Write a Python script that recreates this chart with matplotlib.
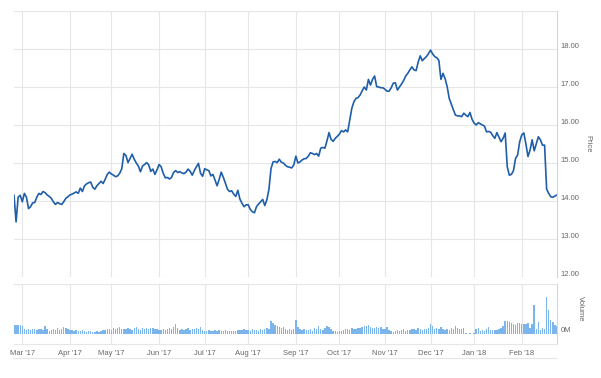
import numpy as np
import pandas as pd
import matplotlib
matplotlib.use("Agg")
import matplotlib.pyplot as plt
import matplotlib.transforms as mtransforms
from matplotlib.lines import Line2D

plt.rcParams['font.family'] = ['Liberation Sans', 'DejaVu Sans']

# one value per trading day, 2017-02-23 .. 2018-02-27
price = [
    14.15, 13.45, 14.10, 14.15, 13.98, 14.20, 14.10, 13.80, 13.85, 13.95,
    13.96, 14.10, 14.20, 14.17, 14.25, 14.22, 14.16, 14.12, 14.07, 13.98,
    13.91, 13.96, 13.93, 13.91, 13.98, 14.07, 14.11, 14.16, 14.18, 14.21,
    14.24, 14.20, 14.34, 14.25, 14.40, 14.45, 14.48, 14.50, 14.36, 14.31,
    14.40, 14.46, 14.52, 14.46, 14.57, 14.70, 14.76, 14.71, 14.68, 14.64,
    14.66, 14.73, 14.85, 15.25, 15.20, 15.01, 15.12, 15.23, 15.10, 15.00,
    14.92, 14.77, 14.92, 14.96, 15.01, 14.95, 14.78, 14.84, 14.70, 14.82,
    14.96, 14.90, 14.73, 14.61, 14.62, 14.58, 14.62, 14.75, 14.80, 14.75,
    14.77, 14.74, 14.72, 14.76, 14.84, 14.78, 14.68, 14.80, 14.90, 14.99,
    14.73, 14.65, 14.85, 14.82, 14.80, 14.66, 14.70, 14.55, 14.40, 14.57,
    14.76, 14.62, 14.47, 14.31, 14.25, 14.27, 14.18, 14.12, 14.28, 14.05,
    13.94, 13.85, 13.90, 13.90, 13.78, 13.72, 13.69, 13.85, 13.92, 13.98,
    14.04, 13.88, 14.03, 14.30, 14.85, 15.03, 15.04, 15.01, 15.10, 15.02,
    15.00, 14.94, 14.90, 14.89, 14.87, 14.95, 15.18, 15.00, 15.03, 15.08,
    15.11, 15.12, 15.18, 15.27, 15.25, 15.22, 15.25, 15.18, 15.39, 15.41,
    15.39, 15.58, 15.80, 15.62, 15.57, 15.65, 15.70, 15.76, 15.85, 15.82,
    15.87, 15.82, 16.13, 16.44, 16.61, 16.70, 16.72, 16.79, 16.90, 17.00,
    16.92, 17.20, 17.05, 17.20, 17.29, 17.01, 17.00, 16.98, 16.98, 16.94,
    16.89, 16.89, 16.98, 17.10, 17.11, 16.92, 17.00, 17.08, 17.17, 17.29,
    17.36, 17.45, 17.53, 17.45, 17.43, 17.65, 17.82, 17.69, 17.75, 17.80,
    17.88, 17.97, 17.87, 17.80, 17.77, 17.70, 17.20, 17.36, 17.22, 17.01,
    16.70, 16.55, 16.40, 16.26, 16.24, 16.24, 16.22, 16.31, 16.26, 16.22,
    16.33, 16.15, 16.05, 16.00, 16.06, 16.03, 16.00, 15.97, 15.82, 15.83,
    15.81, 15.72, 15.65, 15.80, 15.68, 15.56, 15.65, 15.79, 14.90, 14.68,
    14.70, 14.80, 15.12, 15.21, 15.56, 15.74, 15.79, 15.50, 15.17, 15.34,
    15.61, 15.32, 15.50, 15.69, 15.61, 15.47, 15.47, 14.31, 14.20, 14.11,
    14.10, 14.13, 14.16,
]

# volume in millions, same days
volume = [
    0.95, 0.90, 0.90, 0.90, 0.85, 0.55, 0.45, 0.50, 0.40, 0.50,
    0.55, 0.45, 0.50, 0.55, 0.45, 0.80, 0.50, 0.35, 0.45, 0.50,
    0.40, 0.60, 0.45, 0.55, 0.70, 0.65, 0.55, 0.45, 0.40, 0.35,
    0.40, 0.30, 0.35, 0.40, 0.30, 0.25, 0.35, 0.30, 0.20, 0.25,
    0.30, 0.20, 0.35, 0.45, 0.40, 0.50, 0.55, 0.45, 0.65, 0.50,
    0.65, 0.70, 0.55, 0.50, 0.55, 0.65, 0.50, 0.45, 0.60, 0.70,
    0.50, 0.45, 0.60, 0.55, 0.65, 0.50, 0.60, 0.65, 0.50, 0.55,
    0.45, 0.40, 0.50, 0.45, 0.55, 0.60, 0.55, 0.75, 1.05, 0.60,
    0.45, 0.55, 0.40, 0.50, 0.60, 0.45, 0.55, 0.50, 0.60, 0.55,
    0.70, 0.45, 0.35, 0.30, 0.40, 0.35, 0.30, 0.40, 0.35, 0.45,
    0.30, 0.35, 0.40, 0.30, 0.35, 0.30, 0.35, 0.30, 0.40, 0.45,
    0.40, 0.55, 0.40, 0.45, 0.35, 0.50, 0.40, 0.45, 0.35, 0.50,
    0.45, 0.55, 0.60, 0.50, 1.35, 1.10, 0.90, 0.80, 0.75, 0.60,
    0.70, 0.50, 0.45, 0.50, 0.45, 0.50, 1.40, 0.70, 0.50, 0.40,
    0.55, 0.45, 0.40, 0.50, 0.35, 0.60, 0.50, 0.80, 0.55, 0.45,
    0.60, 0.85, 0.70, 0.55, 0.35, 0.30, 0.25, 0.35, 0.30, 0.45,
    0.55, 0.50, 0.45, 0.60, 0.50, 0.55, 0.65, 0.60, 0.75, 0.80,
    0.85, 0.95, 0.75, 0.60, 0.65, 0.70, 0.60, 0.75, 0.50, 0.55,
    0.70, 0.45, 0.30, 0.25, 0.35, 0.45, 0.30, 0.40, 0.50, 0.35,
    0.45, 0.40, 0.55, 0.50, 0.45, 0.60, 0.55, 0.40, 0.55, 0.50,
    0.65, 1.00, 0.80, 0.55, 0.60, 0.50, 0.70, 0.55, 0.40, 0.55,
    0.45, 0.60, 0.50, 0.80, 0.60, 0.50, 0.50, 0.65, 0.10, 0.05,
    0.10, 0.05, 0.15, 0.50, 0.60, 0.30, 0.40, 0.35, 0.50, 0.75,
    0.45, 0.40, 0.45, 0.45, 0.55, 0.60, 0.80, 1.30, 1.35, 1.20,
    1.10, 1.05, 0.90, 1.10, 1.10, 1.00, 1.00, 1.05, 1.10, 0.60,
    1.00, 2.90, 0.50, 1.20, 0.45, 0.60, 0.55, 3.70, 2.45, 1.45,
    1.20, 0.95, 0.85,
]

dates = pd.bdate_range('2017-02-23', periods=len(price))
months = pd.Series(dates.to_period('M'))
tick_idx = np.where(~months.duplicated().values)[0][1:]
tick_lab = [dates[i].strftime("%b '%y") for i in tick_idx]

W, H = 601, 378
def rect(l, t, r, b):
    return [l / W, 1 - b / H, (r - l) / W, (b - t) / H]

grid_c = '#e6e6e6'
axis_c = '#ccd6eb'
text_c = '#666666'
fs = 5.5

fig = plt.figure(figsize=(W / 100, H / 100), dpi=100)
ax = fig.add_axes(rect(14, 11, 557, 277))
axv = fig.add_axes(rect(14, 284, 557, 344), sharex=ax)

x = np.arange(len(price))
ax.plot(x, price, color='#1f5ea8', lw=1.2, solid_joinstyle='round')
ax.set_xlim(0, len(price) - 1)
ax.set_ylim(12, 19)
ax.set_yticks(range(12, 20))
ax.set_yticklabels(['%.2f' % v if v < 19 else '' for v in range(12, 20)])

axv.bar(x, volume, width=0.68, color='#7cb5ec', linewidth=0, antialiased=False)
axv.set_ylim(-1.0, 5.0)
axv.set_yticks([0])
axv.set_yticklabels(['0M'])

offset = mtransforms.ScaledTranslation(0, 4 / 100, fig.dpi_scale_trans)
for a in (ax, axv):
    a.yaxis.tick_right()
    a.tick_params(axis='y', length=0, pad=2.5, labelsize=fs, labelcolor=text_c)
    a.tick_params(axis='x', length=0, pad=4.5, labelsize=fs, labelcolor=text_c)
    for lab in a.get_yticklabels():
        lab.set_transform(lab.get_transform() + offset)
    for s in ('left', 'top', 'bottom'):
        a.spines[s].set_visible(False)
    a.spines['right'].set_color(axis_c)
    a.spines['right'].set_linewidth(0.8)
    a.set_xticks(tick_idx)
    a.grid(axis='x', color=grid_c, lw=0.8)
    a.set_axisbelow(True)

ax.grid(axis='y', color=grid_c, lw=0.8)
ax.tick_params(axis='x', labelbottom=False)
axv.set_xticklabels(tick_lab)
axv.spines['top'].set_visible(True)
axv.spines['top'].set_color(grid_c)
axv.spines['bottom'].set_visible(True)
axv.spines['bottom'].set_color(grid_c)

fig.add_artist(Line2D([14 / W, 557 / W], [1 - 358 / H, 1 - 358 / H],
                      color=grid_c, lw=0.8))

fig.text(588 / W, 1 - 144 / H, 'Price', rotation=270, ha='center', va='center',
         color=text_c, fontsize=fs)
fig.text(580 / W, 1 - 309 / H, 'Volume', rotation=270, ha='center', va='center',
         color=text_c, fontsize=fs)

fig.savefig('out.png', dpi=100)
